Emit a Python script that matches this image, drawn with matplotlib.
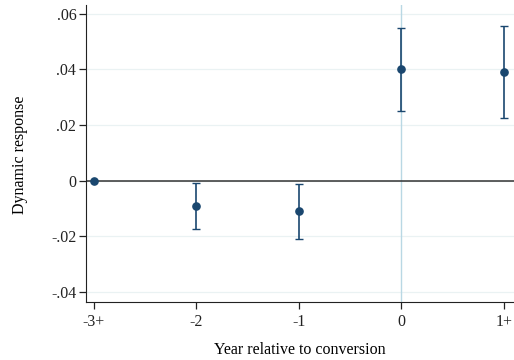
import matplotlib.pyplot as plt
import numpy as np

plt.rcParams['font.family'] = ['Liberation Serif', 'DejaVu Serif']

labels = ["-3+", "-2", "-1", "0", "1+"]
xpos = [-3, -2, -1, 0, 1]
coef = [0.0, -0.0090, -0.0109, 0.0401, 0.0391]
ci_lo = [0.0, -0.0172, -0.0208, 0.0252, 0.0226]
ci_hi = [0.0, -0.0007, -0.0011, 0.0549, 0.0557]

navy = "#1a476f"

fig = plt.figure(figsize=(5.14, 3.6), dpi=100)
ax = fig.add_axes([86/514, (360-302.3)/360, (514-86)/514, (302.3-5)/360])

ax.set_xlim(-3.078, 1.098)
ax.set_ylim(-0.0437, 0.0631)

yt = [-0.04, -0.02, 0, 0.02, 0.04, 0.06]
ax.set_yticks(yt)
ax.set_yticklabels(["-.04", "-.02", "0", ".02", ".04", ".06"])
ax.set_xticks(xpos)
ax.set_xticklabels(labels)
for v in yt:
    ax.axhline(v, color="#eaf2f3", lw=0.9, zorder=0)

ax.axvline(0, color="#b9d8e4", lw=1.0, zorder=1)
ax.axhline(0, color="#333333", lw=1.1, zorder=2)

c = np.array(coef)
err = [c - np.array(ci_lo), np.array(ci_hi) - c]
ax.errorbar(xpos[1:], coef[1:], yerr=[err[0][1:], err[1][1:]], fmt="none",
            ecolor=navy, elinewidth=1.2, capsize=2.6, capthick=1.0, zorder=3)
ax.plot(xpos, coef, "o", color=navy, ms=5.2, zorder=4)

for s in ["top", "right"]:
    ax.spines[s].set_visible(False)
ax.spines["left"].set_color("#222222")
ax.spines["bottom"].set_color("#222222")
ax.tick_params(axis="both", labelsize=11.5, length=5, width=0.9, colors="#222222")
ax.tick_params(axis="y", pad=2)

fig.text(20/514, 1 - 155/360, "Dynamic response", rotation=90, ha="center", va="center", fontsize=11.5)
fig.text(300/514, 1 - 350/360, "Year relative to conversion", ha="center", va="center", fontsize=11.5)

fig.savefig("out.png", dpi=100, facecolor="white")
